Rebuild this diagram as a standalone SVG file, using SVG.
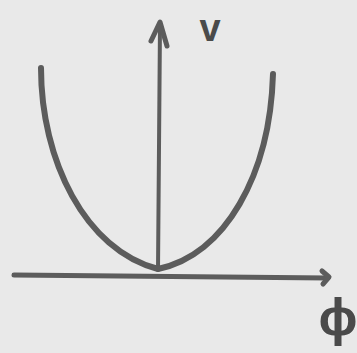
<svg xmlns="http://www.w3.org/2000/svg" width="357" height="353" viewBox="0 0 357 353">
<style>
.ln{fill:none;stroke:#5c5c5c;stroke-linecap:round;stroke-linejoin:round}
.lb{font-family:"Liberation Sans",Arial,sans-serif;fill:#4a4a4a;font-weight:bold}
</style>
<rect width="357" height="353" fill="#e9e9e9"/>
<g id="connectors">
<path class="ln" stroke-width="5" d="M14,275 L328,278"/>
<path class="ln" stroke-width="5" d="M322,271 L329,277 L323,284"/>
<path class="ln" stroke-width="4" d="M158,270 L160,24"/>
<path class="ln" stroke-width="5" d="M151,41 L160,22 L167,46"/>
</g>
<g id="curve">
<path class="ln" stroke-width="6" d="M41,68 C41,160 85,250 158,269 C225,255 270,175 273,74"/>
</g>
<g id="label-v"><text class="lb" x="210" y="41" font-size="38" text-anchor="middle">v</text></g>
<g id="label-phi"><text class="lb" x="338" y="335" font-size="52" text-anchor="middle">ϕ</text></g>
</svg>
